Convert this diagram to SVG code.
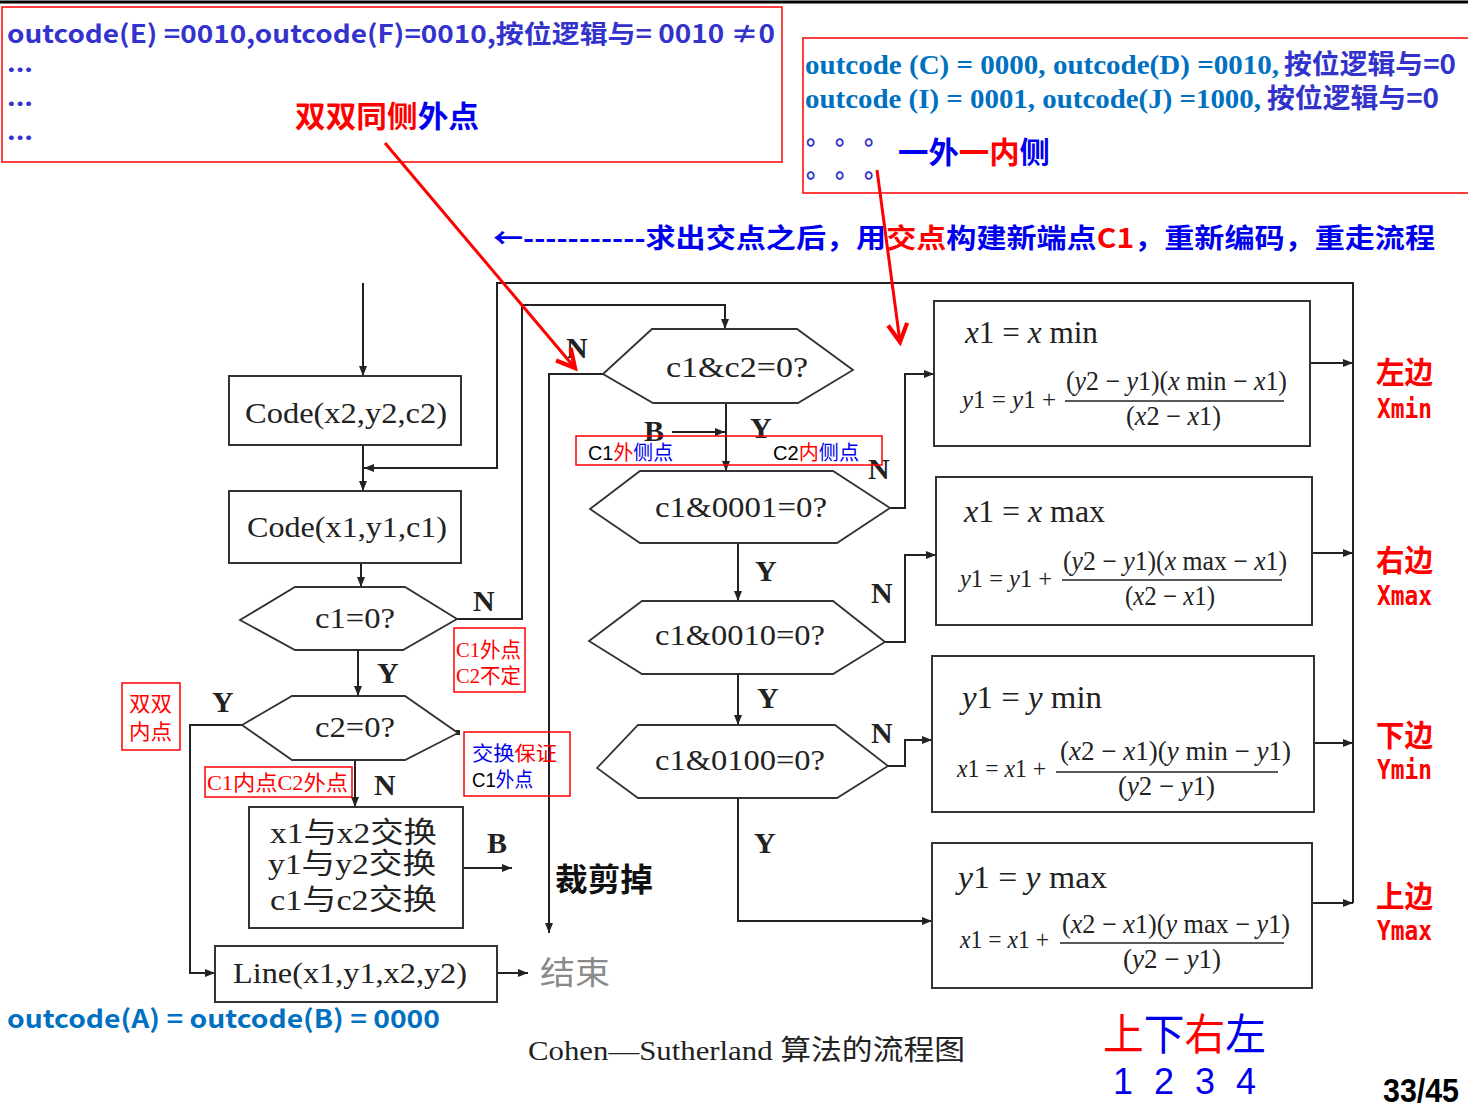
<svg xmlns="http://www.w3.org/2000/svg" width="1468" height="1112" viewBox="0 0 1468 1112">
<defs>
<style>
.ln{stroke:#222;stroke-width:2;fill:none}
.bx{fill:#fff;stroke:#333;stroke-width:2}
.hx{fill:#fff;stroke:#333;stroke-width:1.8}
.fc{font-family:"Liberation Serif","Noto Sans CJK SC",serif;font-size:29px;fill:#222}
.cj{font-family:"Liberation Serif","Noto Sans CJK SC",serif;font-size:29px;fill:#222}
.lb{font-family:"Liberation Serif",serif;font-weight:bold;font-size:30px;fill:#222}
.rb{fill:none;stroke:#f00;stroke-width:1.5}
.rt{font-family:"Liberation Serif","Noto Sans CJK SC",serif;font-size:21px;fill:#f00}
.st{font-family:"Liberation Sans","Noto Sans CJK SC",sans-serif;font-size:20px}
.hd{font-family:"Noto Sans CJK SC",sans-serif;font-weight:bold}
.m{font-family:"Liberation Serif",serif;fill:#222}
.mi{font-style:italic}
.fl{stroke:#222;stroke-width:1.5}
.ed{font-family:"Noto Sans CJK SC",sans-serif;font-weight:bold;font-size:30px;fill:#f00}
.ex{font-family:"DejaVu Sans Mono",monospace;font-weight:bold;font-size:26px;fill:#f00}
.red{fill:#f00}
.blu{fill:#0000ee}
</style>
<marker id="ah" viewBox="0 0 10 8" refX="10" refY="4" markerWidth="10" markerHeight="8" markerUnits="userSpaceOnUse" orient="auto"><path d="M0,0 L10,4 L0,8 z" fill="#222"/></marker>
<marker id="rah" viewBox="0 0 20 20" refX="17" refY="10" markerWidth="24" markerHeight="24" markerUnits="userSpaceOnUse" orient="auto"><path d="M2,2 L17,10 L2,18" fill="none" stroke="#f00" stroke-width="3.5"/></marker>
</defs>
<rect width="1468" height="1112" fill="#fff"/>
<line x1="0" y1="2" x2="1468" y2="2" stroke="#000" stroke-width="3"/>

<!-- top-left note -->
<g id="note-ef">
<rect x="2" y="7" width="780" height="155" class="rb" stroke-width="2"/>
<text x="7" y="43" class="hd" font-size="25" fill="#3333cc" textLength="768" lengthAdjust="spacingAndGlyphs">outcode(E) =0010,outcode(F)=0010,按位逻辑与= 0010 ≠0</text>
<text x="7" y="72" class="hd" font-size="24" fill="#3333cc" textLength="26" lengthAdjust="spacingAndGlyphs">...</text>
<text x="7" y="106" class="hd" font-size="24" fill="#3333cc" textLength="26" lengthAdjust="spacingAndGlyphs">...</text>
<text x="7" y="140" class="hd" font-size="24" fill="#3333cc" textLength="26" lengthAdjust="spacingAndGlyphs">...</text>
<text x="295" y="127" class="hd" font-size="30" textLength="184" lengthAdjust="spacingAndGlyphs"><tspan class="red">双双同侧</tspan><tspan class="blu">外点</tspan></text>
</g>

<!-- top-right note -->
<g id="note-cdij">
<rect x="803" y="38" width="670" height="155" class="rb" stroke-width="2"/>
<text x="805" y="74" font-family="Liberation Serif,serif" font-weight="bold" font-size="27" fill="#0070c0" textLength="474" lengthAdjust="spacingAndGlyphs">outcode (C) = 0000, outcode(D) =0010,</text>
<text x="1284" y="74" class="hd" font-size="27" fill="#3333cc" textLength="172" lengthAdjust="spacingAndGlyphs">按位逻辑与=0</text>
<text x="805" y="108" font-family="Liberation Serif,serif" font-weight="bold" font-size="27" fill="#0070c0" textLength="456" lengthAdjust="spacingAndGlyphs">outcode (I) = 0001, outcode(J) =1000,</text>
<text x="1267" y="108" class="hd" font-size="27" fill="#3333cc" textLength="172" lengthAdjust="spacingAndGlyphs">按位逻辑与=0</text>
<text class="hd" font-size="24" fill="#3333cc" y="144" x="806 835 864">。。。</text>
<text class="hd" font-size="24" fill="#3333cc" y="177" x="806 835 864">。。。</text>
<text x="898" y="163" class="hd" font-size="30" textLength="152" lengthAdjust="spacingAndGlyphs"><tspan class="blu">一外</tspan><tspan class="red">一内</tspan><tspan class="blu">侧</tspan></text>
</g>

<!-- banner -->
<g id="banner">
<text x="493" y="248" class="hd" font-size="27" textLength="942" lengthAdjust="spacingAndGlyphs"><tspan class="blu">←-----------求出交点之后，用</tspan><tspan class="red">交点</tspan><tspan class="blu">构建新端点</tspan><tspan class="red">C1</tspan><tspan class="blu">，重新编码，重走流程</tspan></text>
</g>

<!-- connectors -->
<g id="connectors">
<path class="ln" d="M363,283 V376" marker-end="url(#ah)"/>
<path class="ln" d="M363,445 V491" marker-end="url(#ah)"/>
<path class="ln" d="M1353,903 V283 H497 V468 H364" marker-end="url(#ah)"/>
<path class="ln" d="M361,563 V587" marker-end="url(#ah)"/>
<path class="ln" d="M457,619 H522 V305 H725 V329" marker-end="url(#ah)"/>
<path class="ln" d="M358,650 V696" marker-end="url(#ah)"/>
<path class="ln" d="M242,725 H190 V973 H215" marker-end="url(#ah)"/>
<path class="ln" d="M355,760 V807" marker-end="url(#ah)"/>
<path class="ln" d="M463,868 H512" marker-end="url(#ah)"/>
<path class="ln" d="M497,973 H528" marker-end="url(#ah)"/>
<path class="ln" d="M603,374 H549 V933" marker-end="url(#ah)"/>
<path class="ln" d="M726,403 V471" marker-end="url(#ah)"/>
<path class="ln" d="M672,432 H725" marker-end="url(#ah)"/>
<path class="ln" d="M890,508 H905 V374 H934" marker-end="url(#ah)"/>
<path class="ln" d="M738,543 V601" marker-end="url(#ah)"/>
<path class="ln" d="M885,642 H905 V555 H936" marker-end="url(#ah)"/>
<path class="ln" d="M738,674 V725" marker-end="url(#ah)"/>
<path class="ln" d="M888,766 H905 V740 H932" marker-end="url(#ah)"/>
<path class="ln" d="M738,798 V921 H932" marker-end="url(#ah)"/>
<path class="ln" d="M1310,363 H1353" marker-end="url(#ah)"/>
<path class="ln" d="M1312,553 H1353" marker-end="url(#ah)"/>
<path class="ln" d="M1314,743 H1353" marker-end="url(#ah)"/>
<path class="ln" d="M1312,903 H1353" marker-end="url(#ah)"/>
<rect x="455" y="730" width="5" height="5" fill="#222"/>
</g>

<!-- left column -->
<g id="code2">
<rect x="229" y="376" width="232" height="69" class="bx"/>
<text x="245" y="423" class="fc" textLength="202" lengthAdjust="spacingAndGlyphs">Code(x2,y2,c2)</text>
</g>
<g id="code1">
<rect x="229" y="491" width="232" height="72" class="bx"/>
<text x="247" y="537" class="fc" textLength="200" lengthAdjust="spacingAndGlyphs">Code(x1,y1,c1)</text>
</g>
<g id="c1zero">
<polygon class="hx" points="240,620 295,587 405,587 457,619 403,650 295,650"/>
<text x="315" y="628" class="fc" textLength="80" lengthAdjust="spacingAndGlyphs">c1=0?</text>
</g>
<g id="c2zero">
<polygon class="hx" points="242,725 292,696 405,696 458,733 405,760 292,760"/>
<text x="315" y="737" class="fc" textLength="80" lengthAdjust="spacingAndGlyphs">c2=0?</text>
</g>
<g id="swap">
<rect x="249" y="807" width="214" height="121" class="bx"/>
<text x="270" y="843" class="cj" textLength="167" lengthAdjust="spacingAndGlyphs">x1与x2交换</text>
<text x="268" y="874" class="cj" textLength="168" lengthAdjust="spacingAndGlyphs">y1与y2交换</text>
<text x="270" y="910" class="cj" textLength="167" lengthAdjust="spacingAndGlyphs">c1与c2交换</text>
</g>
<g id="line">
<rect x="215" y="946" width="282" height="56" class="bx"/>
<text x="233" y="983" class="fc" textLength="234" lengthAdjust="spacingAndGlyphs">Line(x1,y1,x2,y2)</text>
</g>
<g id="end">
<text x="540" y="984" font-family="Noto Sans CJK SC,sans-serif" font-size="32" fill="#8a8a8a" textLength="70" lengthAdjust="spacingAndGlyphs">结束</text>
</g>

<!-- middle column -->
<g id="c1c2">
<polygon class="hx" points="603,374 652,329 797,329 853,370 798,403 653,403"/>
<text x="666" y="377" class="fc" textLength="142" lengthAdjust="spacingAndGlyphs">c1&amp;c2=0?</text>
</g>
<g id="c1-0001">
<polygon class="hx" points="590,509 640,471 833,471 890,508 837,543 640,543"/>
<text x="655" y="517" class="fc" textLength="172" lengthAdjust="spacingAndGlyphs">c1&amp;0001=0?</text>
</g>
<g id="c1-0010">
<polygon class="hx" points="589,641 642,601 833,601 885,642 833,674 642,674"/>
<text x="655" y="645" class="fc" textLength="170" lengthAdjust="spacingAndGlyphs">c1&amp;0010=0?</text>
</g>
<g id="c1-0100">
<polygon class="hx" points="597,768 638,725 835,725 888,766 837,798 638,798"/>
<text x="655" y="770" class="fc" textLength="170" lengthAdjust="spacingAndGlyphs">c1&amp;0100=0?</text>
</g>

<!-- right column formula boxes -->
<g id="xmin-box">
<rect x="934" y="301" width="376" height="145" class="bx"/>
<text x="965" y="343" class="m" font-size="31" textLength="133" lengthAdjust="spacingAndGlyphs"><tspan class="mi">x</tspan>1 = <tspan class="mi">x</tspan> min</text>
<text x="962" y="408" class="m" font-size="26" textLength="94" lengthAdjust="spacingAndGlyphs"><tspan class="mi">y</tspan>1 = <tspan class="mi">y</tspan>1 +</text>
<text x="1066" y="390" class="m" font-size="27" textLength="221" lengthAdjust="spacingAndGlyphs">(<tspan class="mi">y</tspan>2 − <tspan class="mi">y</tspan>1)(<tspan class="mi">x</tspan> min − <tspan class="mi">x</tspan>1)</text>
<line x1="1065" y1="401" x2="1284" y2="401" class="fl"/>
<text x="1126" y="425" class="m" font-size="27" textLength="95" lengthAdjust="spacingAndGlyphs">(<tspan class="mi">x</tspan>2 − <tspan class="mi">x</tspan>1)</text>
</g>
<g id="xmax-box">
<rect x="936" y="477" width="376" height="148" class="bx"/>
<text x="964" y="522" class="m" font-size="31" textLength="141" lengthAdjust="spacingAndGlyphs"><tspan class="mi">x</tspan>1 = <tspan class="mi">x</tspan> max</text>
<text x="960" y="587" class="m" font-size="26" textLength="92" lengthAdjust="spacingAndGlyphs"><tspan class="mi">y</tspan>1 = <tspan class="mi">y</tspan>1 +</text>
<text x="1063" y="570" class="m" font-size="27" textLength="224" lengthAdjust="spacingAndGlyphs">(<tspan class="mi">y</tspan>2 − <tspan class="mi">y</tspan>1)(<tspan class="mi">x</tspan> max − <tspan class="mi">x</tspan>1)</text>
<line x1="1062" y1="580" x2="1282" y2="580" class="fl"/>
<text x="1125" y="605" class="m" font-size="27" textLength="90" lengthAdjust="spacingAndGlyphs">(<tspan class="mi">x</tspan>2 − <tspan class="mi">x</tspan>1)</text>
</g>
<g id="ymin-box">
<rect x="932" y="656" width="382" height="156" class="bx"/>
<text x="962" y="708" class="m" font-size="31" textLength="140" lengthAdjust="spacingAndGlyphs"><tspan class="mi">y</tspan>1 = <tspan class="mi">y</tspan> min</text>
<text x="957" y="777" class="m" font-size="26" textLength="89" lengthAdjust="spacingAndGlyphs"><tspan class="mi">x</tspan>1 = <tspan class="mi">x</tspan>1 +</text>
<text x="1060" y="760" class="m" font-size="27" textLength="231" lengthAdjust="spacingAndGlyphs">(<tspan class="mi">x</tspan>2 − <tspan class="mi">x</tspan>1)(<tspan class="mi">y</tspan> min − <tspan class="mi">y</tspan>1)</text>
<line x1="1056" y1="772" x2="1278" y2="772" class="fl"/>
<text x="1118" y="795" class="m" font-size="27" textLength="97" lengthAdjust="spacingAndGlyphs">(<tspan class="mi">y</tspan>2 − <tspan class="mi">y</tspan>1)</text>
</g>
<g id="ymax-box">
<rect x="932" y="843" width="380" height="145" class="bx"/>
<text x="958" y="888" class="m" font-size="31" textLength="149" lengthAdjust="spacingAndGlyphs"><tspan class="mi">y</tspan>1 = <tspan class="mi">y</tspan> max</text>
<text x="960" y="948" class="m" font-size="26" textLength="89" lengthAdjust="spacingAndGlyphs"><tspan class="mi">x</tspan>1 = <tspan class="mi">x</tspan>1 +</text>
<text x="1062" y="933" class="m" font-size="27" textLength="228" lengthAdjust="spacingAndGlyphs">(<tspan class="mi">x</tspan>2 − <tspan class="mi">x</tspan>1)(<tspan class="mi">y</tspan> max − <tspan class="mi">y</tspan>1)</text>
<line x1="1060" y1="943" x2="1284" y2="943" class="fl"/>
<text x="1123" y="968" class="m" font-size="27" textLength="98" lengthAdjust="spacingAndGlyphs">(<tspan class="mi">y</tspan>2 − <tspan class="mi">y</tspan>1)</text>
</g>

<!-- edge labels -->
<g id="edge-labels">
<text x="1376" y="383" class="ed" textLength="57" lengthAdjust="spacingAndGlyphs">左边</text>
<text x="1377" y="418" class="ex" textLength="55" lengthAdjust="spacingAndGlyphs">Xmin</text>
<text x="1376" y="571" class="ed" textLength="57" lengthAdjust="spacingAndGlyphs">右边</text>
<text x="1377" y="605" class="ex" textLength="55" lengthAdjust="spacingAndGlyphs">Xmax</text>
<text x="1376" y="746" class="ed" textLength="57" lengthAdjust="spacingAndGlyphs">下边</text>
<text x="1377" y="779" class="ex" textLength="55" lengthAdjust="spacingAndGlyphs">Ymin</text>
<text x="1376" y="907" class="ed" textLength="57" lengthAdjust="spacingAndGlyphs">上边</text>
<text x="1377" y="940" class="ex" textLength="55" lengthAdjust="spacingAndGlyphs">Ymax</text>
</g>

<!-- Y/N/B labels -->
<g id="flow-labels">
<text x="473" y="611" class="lb">N</text>
<text x="377" y="683" class="lb">Y</text>
<text x="212" y="712" class="lb">Y</text>
<text x="374" y="795" class="lb">N</text>
<text x="487" y="853" class="lb">B</text>
<text x="566" y="358" class="lb">N</text>
<text x="644" y="441" class="lb">B</text>
<text x="750" y="438" class="lb">Y</text>
<text x="868" y="479" class="lb">N</text>
<text x="755" y="581" class="lb">Y</text>
<text x="871" y="603" class="lb">N</text>
<text x="757" y="708" class="lb">Y</text>
<text x="871" y="743" class="lb">N</text>
<text x="754" y="853" class="lb">Y</text>
</g>

<!-- annotation boxes -->
<g id="ann-c1out">
<rect x="454" y="628" width="71" height="64" class="rb"/>
<text x="456" y="657" class="rt" textLength="65" lengthAdjust="spacingAndGlyphs">C1外点</text>
<text x="456" y="683" class="rt" textLength="65" lengthAdjust="spacingAndGlyphs">C2不定</text>
</g>
<g id="ann-bothin">
<rect x="122" y="683" width="58" height="67" class="rb"/>
<text x="129" y="711" class="rt" textLength="43" lengthAdjust="spacingAndGlyphs">双双</text>
<text x="129" y="739" class="rt" textLength="43" lengthAdjust="spacingAndGlyphs">内点</text>
</g>
<g id="ann-c1in">
<rect x="205" y="767" width="147" height="30" class="rb"/>
<text x="207" y="790" class="rt" textLength="141" lengthAdjust="spacingAndGlyphs">C1内点C2外点</text>
</g>
<g id="ann-swap">
<rect x="464" y="732" width="106" height="64" class="rb"/>
<text x="472" y="761" class="st" textLength="85" lengthAdjust="spacingAndGlyphs"><tspan class="blu">交换</tspan><tspan class="red">保证</tspan></text>
<text x="472" y="787" class="st" textLength="61" lengthAdjust="spacingAndGlyphs"><tspan fill="#000">C1</tspan><tspan class="blu">外点</tspan></text>
</g>
<g id="ann-side">
<rect x="576" y="436" width="306" height="29" class="rb"/>
<text x="588" y="460" class="st" textLength="85" lengthAdjust="spacingAndGlyphs"><tspan fill="#000">C1</tspan><tspan class="red">外</tspan><tspan class="blu">侧点</tspan></text>
<text x="773" y="460" class="st" textLength="86" lengthAdjust="spacingAndGlyphs"><tspan fill="#000">C2</tspan><tspan class="red">内</tspan><tspan class="blu">侧点</tspan></text>
</g>

<!-- red pointers -->
<g id="pointers">
<line x1="385" y1="143" x2="575" y2="368" stroke="#f00" stroke-width="3" marker-end="url(#rah)"/>
<line x1="877" y1="170" x2="900" y2="342" stroke="#f00" stroke-width="3" marker-end="url(#rah)"/>
</g>

<!-- misc texts -->
<g id="misc">
<text x="555" y="891" class="hd" font-size="32" fill="#111" textLength="98" lengthAdjust="spacingAndGlyphs">裁剪掉</text>
<text x="7" y="1028" class="hd" font-size="25" fill="#0070c0" textLength="433" lengthAdjust="spacingAndGlyphs">outcode(A) = outcode(B) = 0000</text>
<text x="528" y="1060" font-family="Liberation Serif,Noto Sans CJK SC,serif" font-size="28" fill="#222" textLength="437" lengthAdjust="spacingAndGlyphs">Cohen—Sutherland 算法的流程图</text>
<text x="1103" y="1050" font-family="Noto Sans CJK SC,sans-serif" font-size="43" textLength="163" lengthAdjust="spacingAndGlyphs"><tspan class="red">上</tspan><tspan class="blu">下</tspan><tspan class="red">右</tspan><tspan class="blu">左</tspan></text>
<text y="1094" font-family="Liberation Sans,sans-serif" font-size="36" fill="#0000ee" x="1113 1154 1195 1236">1234</text>
<text x="1383" y="1102" font-family="Liberation Sans,sans-serif" font-weight="bold" font-size="34" fill="#000" textLength="76" lengthAdjust="spacingAndGlyphs">33/45</text>
</g>
</svg>
